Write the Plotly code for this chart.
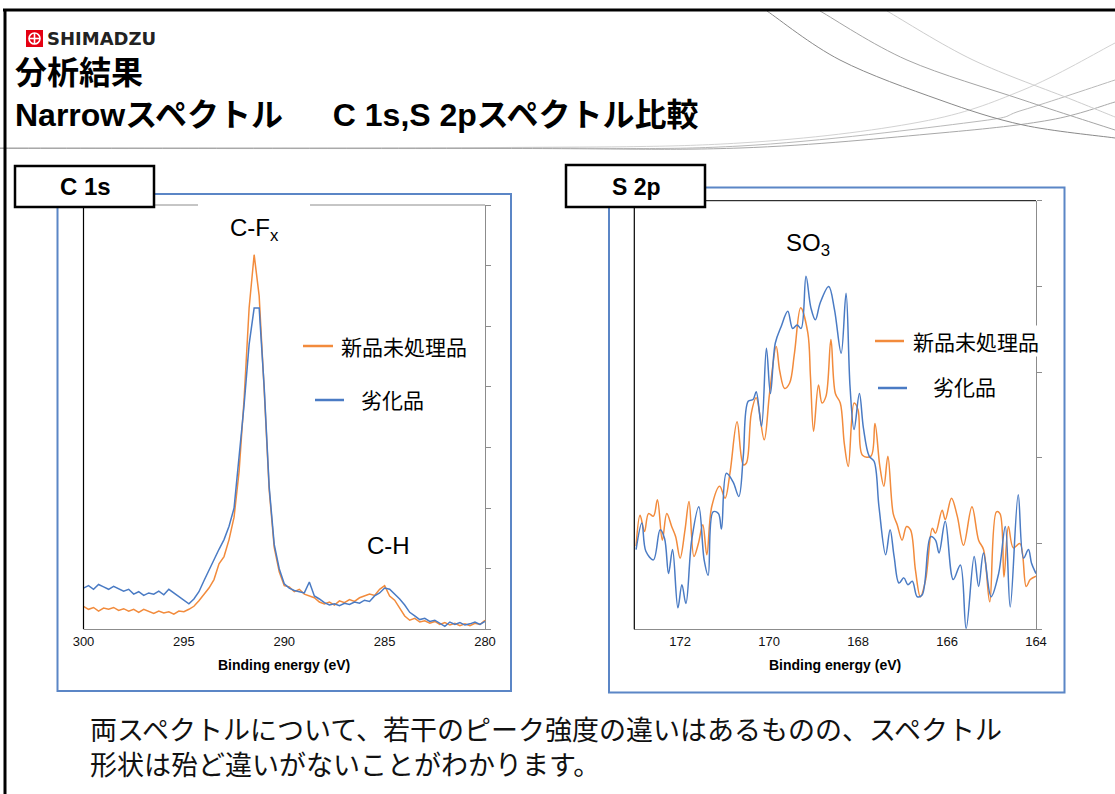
import plotly.graph_objects as go

# ---------------- data ----------------
c1s_energy = [300.00, 299.75, 299.50, 299.25, 299.00, 298.75, 298.50, 298.25, 298.00, 297.75,
              297.50, 297.25, 297.00, 296.75, 296.50, 296.25, 296.00, 295.75, 295.50, 295.25,
              295.00, 294.75, 294.50, 294.25, 294.00, 293.75, 293.50, 293.25, 293.00, 292.75,
              292.50, 292.25, 292.00, 291.75, 291.50, 291.25, 291.00, 290.75, 290.50, 290.25,
              290.00, 289.75, 289.50, 289.25, 289.00, 288.75, 288.50, 288.25, 288.00, 287.75,
              287.50, 287.25, 287.00, 286.75, 286.50, 286.25, 286.00, 285.75, 285.50, 285.25,
              285.00, 284.75, 284.50, 284.25, 284.00, 283.75, 283.50, 283.25, 283.00, 282.75,
              282.50, 282.25, 282.00, 281.75, 281.50, 281.25, 281.00, 280.75, 280.50, 280.25,
              280.00]
c1s_new = [0.38, 0.33, 0.36, 0.30, 0.35, 0.33, 0.36, 0.31, 0.34, 0.30,
           0.33, 0.28, 0.33, 0.30, 0.26, 0.30, 0.27, 0.29, 0.25, 0.30,
           0.29, 0.33, 0.38, 0.47, 0.57, 0.68, 0.82, 1.08, 1.20, 1.48,
           1.85, 2.60, 3.80, 5.30, 6.18, 5.50, 3.95, 2.30, 1.35, 0.95,
           0.72, 0.70, 0.62, 0.66, 0.58, 0.55, 0.52, 0.45, 0.42, 0.45,
           0.40, 0.47, 0.44, 0.49, 0.46, 0.52, 0.55, 0.58, 0.56, 0.66,
           0.72, 0.55, 0.48, 0.35, 0.22, 0.15, 0.18, 0.12, 0.14, 0.10,
           0.13, 0.08, 0.11, 0.07, 0.10, 0.06, 0.09, 0.06, 0.10, 0.08,
           0.15]
c1s_aged = [0.68, 0.72, 0.66, 0.74, 0.70, 0.66, 0.71, 0.67, 0.63, 0.66,
            0.58, 0.62, 0.56, 0.60, 0.58, 0.63, 0.57, 0.66, 0.60, 0.54,
            0.48, 0.42, 0.50, 0.62, 0.80, 0.98, 1.15, 1.32, 1.48, 1.70,
            2.00, 2.80, 3.70, 4.70, 5.30, 5.30, 4.00, 2.35, 1.40, 1.00,
            0.75, 0.68, 0.64, 0.62, 0.60, 0.78, 0.55, 0.50, 0.44, 0.40,
            0.42, 0.39, 0.43, 0.41, 0.45, 0.43, 0.48, 0.46, 0.55, 0.60,
            0.68, 0.66, 0.58, 0.50, 0.40, 0.28, 0.22, 0.16, 0.18, 0.13,
            0.15, 0.10, 0.05, 0.12, 0.08, 0.11, 0.07, 0.09, 0.12, 0.08,
            0.13]

s2p_new_energy = [172.99, 172.90, 172.80, 172.71, 172.60, 172.51, 172.40, 172.30, 172.19, 172.10,
                  172.00, 171.89, 171.80, 171.69, 171.59, 171.49, 171.40, 171.29, 171.11, 170.99,
                  170.88, 170.72, 170.58, 170.51, 170.40, 170.29, 170.11, 169.99, 169.84, 169.76,
                  169.65, 169.54, 169.43, 169.29, 169.13, 169.07, 169.00, 168.89, 168.81, 168.72,
                  168.61, 168.51, 168.40, 168.31, 168.22, 168.09, 168.00, 167.90, 167.71, 167.62,
                  167.51, 167.42, 167.33, 167.21, 167.12, 167.01, 166.91, 166.82, 166.71, 166.60,
                  166.48, 166.33, 166.26, 166.11, 166.04, 165.90, 165.77, 165.63, 165.44, 165.29,
                  165.18, 165.04, 164.89, 164.81, 164.72, 164.62, 164.51, 164.36, 164.22, 164.13,
                  164.00]
s2p_new = [0.97, 1.33, 1.14, 1.35, 1.32, 1.51, 1.04, 1.35, 1.20, 1.08,
           0.83, 1.16, 1.49, 0.85, 1.00, 1.22, 0.87, 1.43, 1.67, 1.53,
           1.82, 2.42, 1.92, 1.94, 2.52, 2.70, 2.21, 2.75, 3.30, 3.01,
           2.81, 2.87, 3.22, 3.75, 3.46, 2.95, 2.31, 2.85, 2.64, 2.72,
           3.38, 2.75, 2.64, 2.17, 1.90, 2.64, 2.56, 2.03, 2.02, 2.40,
           1.90, 1.67, 2.02, 1.35, 1.22, 1.04, 1.20, 1.16, 0.69, 0.38,
           0.58, 1.18, 1.12, 1.39, 1.28, 1.53, 1.32, 0.98, 1.43, 1.04,
           0.93, 0.32, 1.37, 1.35, 0.61, 1.20, 0.95, 1.00, 0.50, 0.58,
           0.62]
s2p_aged_energy = [172.99, 172.86, 172.77, 172.60, 172.45, 172.35, 172.26, 172.17, 172.05, 171.96,
                   171.87, 171.74, 171.58, 171.46, 171.37, 171.26, 171.14, 171.07, 170.96, 170.81,
                   170.68, 170.58, 170.47, 170.36, 170.29, 170.17, 170.06, 169.97, 169.86, 169.73,
                   169.58, 169.47, 169.37, 169.28, 169.17, 169.06, 168.96, 168.85, 168.66, 168.53,
                   168.38, 168.27, 168.18, 168.09, 167.97, 167.88, 167.75, 167.64, 167.53, 167.38,
                   167.28, 167.19, 167.08, 166.97, 166.88, 166.78, 166.67, 166.56, 166.37, 166.26,
                   166.18, 166.04, 165.86, 165.70, 165.57, 165.39, 165.29, 165.18, 165.01, 164.84,
                   164.69, 164.58, 164.40, 164.28, 164.17, 164.10, 164.00]
s2p_aged = [0.93, 1.24, 0.91, 0.81, 1.16, 1.06, 0.65, 0.93, 0.25, 0.52,
            0.30, 1.04, 1.43, 0.81, 0.63, 1.37, 1.35, 1.17, 1.82, 1.72,
            1.55, 2.02, 2.66, 2.68, 2.77, 2.37, 3.28, 2.75, 3.34, 3.53,
            3.71, 3.51, 3.55, 3.51, 4.12, 3.75, 3.61, 3.81, 4.00, 3.73,
            3.22, 3.92, 2.83, 2.33, 2.75, 2.35, 2.02, 1.96, 1.43, 0.87,
            1.16, 0.85, 0.54, 0.60, 0.52, 0.56, 0.38, 0.40, 1.08, 1.04,
            0.89, 1.26, 0.58, 0.75, 0.01, 0.85, 0.50, 0.89, 0.38, 0.65,
            1.20, 0.26, 1.57, 0.83, 0.93, 0.77, 0.65]

c1s_ticks = [300, 295, 290, 285, 280]
s2p_ticks = [172, 170, 168, 166, 164]
series_names = ["新品未処理品", "劣化品"]
axis_title = "Binding energy (eV)"

# ---------------- style / geometry ----------------
W, H = 1115, 794
ORANGE = "#F28B3C"
BLUE = "#4A7BC4"
FRAME = "#5B86C6"
GREY = "#8C8C8C"
ARIAL = "Liberation Sans, Arial, sans-serif"
JP = "Noto Sans CJK JP, sans-serif"
TITLE_FONT = "Liberation Sans, Noto Sans CJK JP, sans-serif"


def px(x):
    return x / W


def py(y):
    return 1 - y / H


def line(x0, y0, x1, y1, color, width=1):
    return dict(type="line", xref="paper", yref="paper", x0=px(x0), y0=py(y0),
                x1=px(x1), y1=py(y1), line=dict(color=color, width=width), layer="above")


def rect(x0, y0, x1, y1, color, width=1, fill="rgba(0,0,0,0)"):
    return dict(type="rect", xref="paper", yref="paper", x0=px(x0), y0=py(y0),
                x1=px(x1), y1=py(y1), line=dict(color=color, width=width),
                fillcolor=fill, layer="above")


def curve(points, color, width=1):
    # Catmull-Rom through the points -> cubic Bezier path (paper coords)
    p = [(px(x), py(y)) for x, y in points]
    d = f"M {p[0][0]:.5f},{p[0][1]:.5f}"
    n = len(p)
    for i in range(n - 1):
        p0 = p[i - 1] if i > 0 else p[i]
        p1 = p[i]
        p2 = p[i + 1]
        p3 = p[i + 2] if i + 2 < n else p[i + 1]
        c1 = (p1[0] + (p2[0] - p0[0]) / 6, p1[1] + (p2[1] - p0[1]) / 6)
        c2 = (p2[0] - (p3[0] - p1[0]) / 6, p2[1] - (p3[1] - p1[1]) / 6)
        d += f" C {c1[0]:.5f},{c1[1]:.5f} {c2[0]:.5f},{c2[1]:.5f} {p2[0]:.5f},{p2[1]:.5f}"
    return dict(type="path", xref="paper", yref="paper", path=d,
                line=dict(color=color, width=width), layer="below")


def ann(x, y, text, size, family=ARIAL, xanchor="center", color="#000", bg=None, align="center"):
    a = dict(x=px(x), y=py(y), xref="paper", yref="paper", text=text, showarrow=False,
             xanchor=xanchor, yanchor="middle", align=align,
             font=dict(family=family, size=size, color=color), borderpad=0)
    if bg:
        a["bgcolor"] = bg
    return a


fig = go.Figure()
fig.add_trace(go.Scatter(x=c1s_energy, y=c1s_new, mode="lines", name=series_names[0],
                         line=dict(color=ORANGE, width=1.5), xaxis="x", yaxis="y"))
fig.add_trace(go.Scatter(x=c1s_energy, y=c1s_aged, mode="lines", name=series_names[1],
                         line=dict(color=BLUE, width=1.5), xaxis="x", yaxis="y"))
fig.add_trace(go.Scatter(x=s2p_new_energy, y=s2p_new, mode="lines", name=series_names[0],
                         line=dict(color=ORANGE, width=1.5, shape="spline", smoothing=1),
                         xaxis="x2", yaxis="y2"))
fig.add_trace(go.Scatter(x=s2p_aged_energy, y=s2p_aged, mode="lines", name=series_names[1],
                         line=dict(color=BLUE, width=1.5, shape="spline", smoothing=1),
                         xaxis="x2", yaxis="y2"))

# plot geometry (pixels)
C = dict(l=83.5, r=485, t=205, b=629.3)
S = dict(l=634.3, r=1036, t=200.7, b=629.3)

xcommon = dict(showline=True, linecolor=GREY, linewidth=1, ticks="", showgrid=False,
               zeroline=False, automargin=False,
               tickfont=dict(family=ARIAL, size=13, color="#111"))
ycommon = dict(side="right", showline=True, linecolor=GREY, linewidth=1, ticks="outside",
               ticklen=5, tickcolor=GREY, showticklabels=False, showgrid=False,
               zeroline=False, automargin=False, dtick=1)

shapes = []
# slide border
shapes.append(line(3, 10, 1115, 10, "#000", 3))
shapes.append(line(5, 10, 5, 794, "#000", 3))
# header decorative lines
shapes.append(curve([(0, 148), (500, 147.5), (740, 143), (920, 122), (1023, 90), (1115, 43)], "#d2d2d2"))
shapes.append(curve([(0, 148), (500, 148), (740, 146), (973, 122), (1023, 110), (1115, 80)], "#b9b9b9"))
shapes.append(curve([(0, 148.5), (500, 148.5), (740, 148), (940, 133), (1050, 120), (1115, 102)], "#a8a8a8"))
shapes.append(curve([(767, 11), (840, 60), (940, 100), (1023, 125), (1115, 138)], "#8a8a8a"))
shapes.append(curve([(820, 11), (907, 60), (1023, 100), (1115, 130)], "#a5a5a5"))
shapes.append(curve([(887, 11), (973, 60), (1073, 100), (1115, 117)], "#cdcdcd"))
# blue frames
shapes.append(rect(57.5, 194, 511, 691, FRAME, 2))
shapes.append(rect(609, 187.5, 1064.5, 692.5, FRAME, 2))
# plot borders
shapes.append(line(C["l"], C["t"], C["l"], C["b"], "#000", 1.2))
shapes.append(line(C["l"], C["t"], 198, C["t"], GREY, 1))
shapes.append(line(310, C["t"], C["r"], C["t"], GREY, 1))
shapes.append(line(S["l"], S["t"], S["l"], S["b"], "#000", 1.2))
shapes.append(line(S["l"], S["t"], S["r"], S["t"], "#000", 1))
# label boxes
shapes.append(rect(15, 166, 154, 207, "#000", 2.5, "#fff"))
shapes.append(rect(566, 165, 705, 207, "#000", 2.5, "#fff"))
# legend keys
shapes.append(line(303, 346, 333, 346, ORANGE, 2.5))
shapes.append(line(315, 400, 344, 400, BLUE, 2.5))
shapes.append(line(875, 341, 904, 341, ORANGE, 2.5))
shapes.append(line(878, 388, 907, 388, BLUE, 2.5))
# logo
shapes.append(dict(type="rect", xref="paper", yref="paper", x0=px(26), y0=py(47), x1=px(43), y1=py(30),
                   fillcolor="#E50012", line=dict(width=0), layer="above"))
shapes.append(dict(type="circle", xref="paper", yref="paper", x0=px(29), y0=py(44), x1=px(40), y1=py(33),
                   line=dict(color="#fff", width=1.6), layer="above"))
shapes.append(line(34.5, 33, 34.5, 44, "#fff", 1.6))
shapes.append(line(29, 38.5, 40, 38.5, "#fff", 1.6))

annotations = [
    ann(46, 39, "<b>SHIMADZU</b>", 18, family="DejaVu Sans, sans-serif", xanchor="left", color="#222"),
    ann(14, 94, "<b>分析結果<br>Narrowスペクトル　\u00a0\u00a0C 1s,S 2pスペクトル比較</b>", 32,
        family=TITLE_FONT, xanchor="left", align="left"),
    ann(85, 187, "<b>C 1s</b>", 24),
    ann(636, 187, "<b>S 2p</b>", 23),
    ann(254, 229, "C-F<sub>x</sub>", 24),
    ann(388, 545, "C-H", 24),
    ann(808, 244, "SO<sub>3</sub>", 24),
    ann(340, 346, series_names[0], 21, family=JP, xanchor="left"),
    ann(360, 399, series_names[1], 21, family=JP, xanchor="left"),
    ann(912, 341, series_names[0], 21, family=JP, xanchor="left", bg="#fff"),
    ann(932, 386, series_names[1], 21, family=JP, xanchor="left", bg="#fff"),
    ann((C["l"] + C["r"]) / 2, 665, f"<b>{axis_title}</b>", 14),
    ann((S["l"] + S["r"]) / 2, 665, f"<b>{axis_title}</b>", 14),
    ann(89, 746, "両スペクトルについて、若干のピーク強度の違いはあるものの、スペクトル<br>"
                 "形状は殆ど違いがないことがわかります。", 27, family=JP,
        xanchor="left", color="#111", align="left"),
]

fig.update_layout(
    width=W, height=H, margin=dict(l=0, r=0, t=0, b=0),
    paper_bgcolor="#fff", plot_bgcolor="rgba(0,0,0,0)", showlegend=False,
    xaxis=dict(domain=[px(C["l"]), px(C["r"])], range=[300, 280], tickvals=c1s_ticks,
               anchor="y", **xcommon),
    yaxis=dict(domain=[py(C["b"]), py(C["t"])], range=[0, 7], anchor="x", **ycommon),
    xaxis2=dict(domain=[px(S["l"]), px(S["r"])], range=[173.03, 164], tickvals=s2p_ticks,
                anchor="y2", **xcommon),
    yaxis2=dict(domain=[py(S["b"]), py(S["t"])], range=[0, 5], anchor="x2", **ycommon),
    shapes=shapes, annotations=annotations,
)

fig.write_html("out.html")
